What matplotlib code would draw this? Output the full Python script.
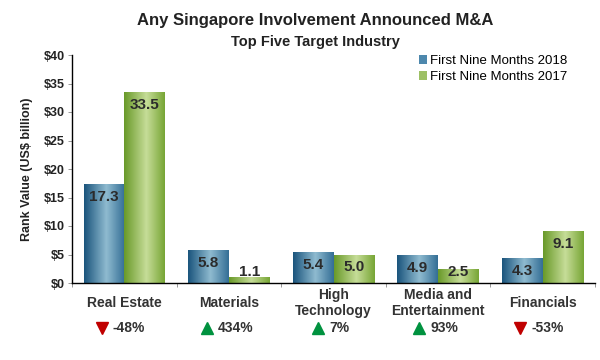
import numpy as np
import matplotlib
matplotlib.use("Agg")
import matplotlib.pyplot as plt
from matplotlib.colors import LinearSegmentedColormap
from matplotlib.patches import Patch
from matplotlib.transforms import blended_transform_factory, offset_copy

plt.rcParams['font.family'] = ['Liberation Sans', 'DejaVu Sans']

industries = ["Real Estate", "Materials", "High\nTechnology", "Media and\nEntertainment", "Financials"]
val_2018 = [17.3, 5.8, 5.4, 4.9, 4.3]
val_2017 = [33.5, 1.1, 5.0, 2.5, 9.1]
changes = ["-48%", "434%", "7%", "93%", "-53%"]
series_names = ["First Nine Months 2018", "First Nine Months 2017"]
yticks = [0, 5, 10, 15, 20, 25, 30, 35, 40]

blue_cmap = LinearSegmentedColormap.from_list(
    "b", [(0, "#1b557d"), (0.55, "#8fbbd0"), (1, "#356f96")])
green_cmap = LinearSegmentedColormap.from_list(
    "g", [(0, "#6a9a2a"), (0.55, "#c6dd98"), (1, "#78a636")])

fig = plt.figure(figsize=(6, 3.6), dpi=100)
ax = fig.add_axes([72 / 600, 77 / 360, 523 / 600, 228 / 360])

x = np.arange(len(industries))
w = 0.39
grad = np.linspace(0, 1, 64).reshape(1, -1)

def grad_bars(xs, vals, cmap):
    bars = ax.bar(xs, vals, w, color="none", edgecolor="none")
    for b in bars:
        x0, y0 = b.get_x(), b.get_y()
        im = ax.imshow(grad, cmap=cmap, aspect="auto",
                       extent=(x0, x0 + b.get_width(), y0, y0 + b.get_height()),
                       zorder=2)
        im.set_clip_path(b)
    return bars

grad_bars(x - w / 2, val_2018, blue_cmap)
grad_bars(x + w / 2, val_2017, green_cmap)

# value labels
for xs, vals in ((x - w / 2, val_2018), (x + w / 2, val_2017)):
    for xi, v in zip(xs, vals):
        ax.text(xi, max(v - 2.28, 1.9), f"{v:.1f}", ha="center", va="center",
                fontsize=11, fontweight="bold", color="#2b2b2b", zorder=3)

ax.set_xlim(-0.5, len(industries) - 0.5)
ax.set_ylim(0, 40)
ax.set_yticks(yticks)
ax.set_yticklabels([f"${t}" for t in yticks], fontsize=9, fontweight="bold", color="#222222")
ax.set_xticks(np.arange(len(industries) + 1) - 0.5)
ax.set_xticklabels([])
ax.tick_params(axis="y", length=3, width=0.6, color="#888888", pad=2)
ax.tick_params(axis="x", length=3, width=0.6, color="#888888")
for s in ("top", "right"):
    ax.spines[s].set_visible(False)
for s in ("left", "bottom"):
    ax.spines[s].set_linewidth(1.0)
    ax.spines[s].set_color("black")

ax.set_ylabel("Rank Value (US$ billion)", fontsize=9, fontweight="bold",
              color="#222222", labelpad=8)

# category labels and change markers
trans = blended_transform_factory(ax.transData, fig.transFigure)
px = 72 / fig.dpi  # points per pixel
for xi, name, ch in zip(x, industries, changes):
    ax.text(xi, 1 - 303 / 360, name, transform=trans, ha="center", va="center",
            fontsize=10, fontweight="bold", color="#333333", linespacing=1.2)
    up = not ch.startswith("-")
    tw = len(ch) * 7.2
    grp = 10 + 6 + tw
    left = -grp / 2 - 5
    tri_t = offset_copy(trans, fig=fig, x=(left + 5) * px, y=0, units="points")
    txt_t = offset_copy(trans, fig=fig, x=(left + 16) * px, y=0, units="points")
    ax.plot([xi], [1 - 328 / 360], marker="^" if up else "v", markersize=8,
            color="#00923f" if up else "#c00000", transform=tri_t, clip_on=False,
            linestyle="none")
    ax.text(xi, 1 - 328 / 360, ch, transform=txt_t, ha="left", va="center",
            fontsize=10, fontweight="bold", color="#333333")

handles = [Patch(facecolor="#4d88ad"), Patch(facecolor="#9dc065")]
fig.legend(handles, series_names, loc="upper left",
           bbox_to_anchor=(412 / 600, 1 - 48 / 360), frameon=False,
           fontsize=9.5, handlelength=0.6, handleheight=0.7,
           handletextpad=0.25, labelspacing=0.3, borderpad=0)

fig.text(315 / 600, 1 - 21 / 360, "Any Singapore Involvement Announced M&A",
         ha="center", va="center", fontsize=12, fontweight="bold", color="#222222")
fig.text(315 / 600, 1 - 42 / 360, "Top Five Target Industry",
         ha="center", va="center", fontsize=10.5, fontweight="bold", color="#222222")

fig.savefig("out.png", dpi=100)
